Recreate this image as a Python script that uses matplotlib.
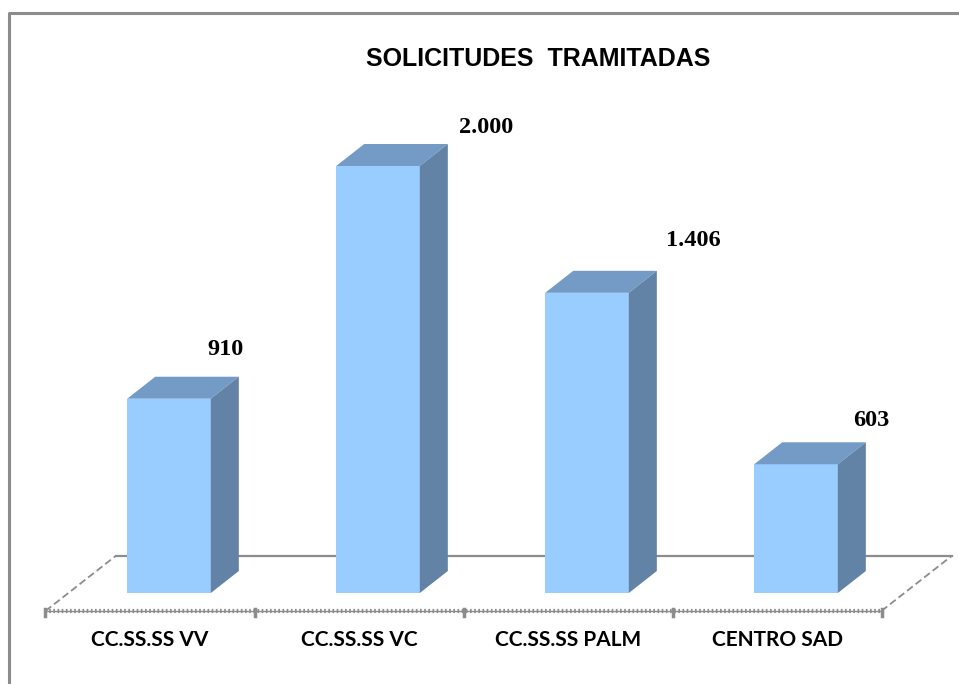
import numpy as np
import matplotlib.pyplot as plt
from matplotlib.patches import Polygon
from matplotlib.lines import Line2D

categories = ['CC.SS.SS VV', 'CC.SS.SS VC', 'CC.SS.SS PALM', 'CENTRO SAD']
values = [910, 2000, 1406, 603]
value_labels = ['910', '2.000', '1.406', '603']
title = 'SOLICITUDES  TRAMITADAS'

# colours
c_front = '#99ccff'
c_top = '#739bc6'
c_side = '#6282a6'
c_grid = '#8c8c8c'

fig = plt.figure(figsize=(9.59, 6.84), dpi=100)
ax = fig.add_axes([0, 0, 1, 1])
ax.set_xlim(-0.7177, 3.8708)
ax.set_ylim(-426.2, 2777.5)
ax.axis('off')

# 3d look: bar depth and floor depth in data units
bar_off = 0.091
half_w = 0.2
ddx, ddy = 0.134, 103
floor_front, floor_back = -84, 173
floor_dx = 0.335
n = len(values)

# floor
xl, xr = -0.5, n - 0.5
ax.plot([xl + floor_dx, xr + floor_dx], [floor_back, floor_back], color=c_grid, lw=1.6, zorder=1)
ax.plot([xl, xr], [floor_front, floor_front], color=c_grid, lw=1.0, zorder=1)
ax.plot([xl, xr], [floor_front, floor_front], color=c_grid, lw=3, ls=(0, (0.4, 0.6)), zorder=1)
for x0 in (xl, xr):
    ax.plot([x0, x0 + floor_dx], [floor_front, floor_back], color=c_grid, lw=1.3, ls=(0, (4, 2)), zorder=1)
for t in np.arange(n + 1) - 0.5:
    ax.plot([t, t], [floor_front - 22, floor_front + 8], color=c_grid, lw=2.5, zorder=1)

# bars
label_dx = [0.36, 0.61, 0.60, 0.45]
label_dy = [230, 180, 245, 205]
for i, v in enumerate(values):
    l = i + bar_off - half_w
    r = i + bar_off + half_w
    ax.add_patch(Polygon([(l, 0), (r, 0), (r, v), (l, v)], closed=True,
                         facecolor=c_front, edgecolor='none', zorder=3))
    ax.add_patch(Polygon([(l, v), (r, v), (r + ddx, v + ddy), (l + ddx, v + ddy)], closed=True,
                         facecolor=c_top, edgecolor='none', zorder=3))
    ax.add_patch(Polygon([(r, 0), (r + ddx, ddy), (r + ddx, v + ddy), (r, v)], closed=True,
                         facecolor=c_side, edgecolor='none', zorder=3))
    ax.text(i + label_dx[i], v + label_dy[i], value_labels[i], ha='center', va='center',
            fontsize=17.5, fontweight='bold', family='Liberation Serif', zorder=4)
    ax.text(i, -222, categories[i], ha='center', va='center',
            fontsize=15, fontweight='bold', family='Lato')

fig.text(538 / 959, 1 - 59 / 684, title, ha='center', va='center',
         fontsize=18, fontweight='bold', family='Liberation Sans')

# chart border (partly cut off on the right and bottom)
bx, by = 9 / 959, 1 - 13 / 684
fig.add_artist(Line2D([bx, bx, 0.999], [0, by, by], color='#8c8c8c', lw=2.2,
                      transform=fig.transFigure))

fig.savefig('out.png', dpi=100)
